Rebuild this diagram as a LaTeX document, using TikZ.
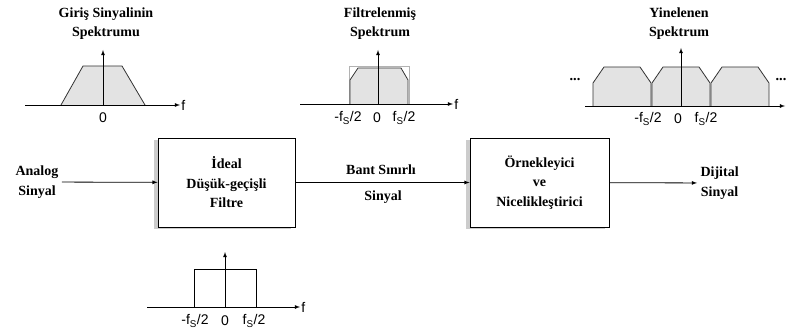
\documentclass[tikz,border=0pt]{standalone}
\usepackage{fontspec}
\setmainfont{Liberation Serif}
\setsansfont{Liberation Sans}
\usetikzlibrary{shadows}
\begin{document}
\begin{tikzpicture}[x=1pt,y=-1pt,
 blok/.style={draw,thick,fill=white,minimum width=137pt,minimum height=89pt,
   align=center,font=\bfseries\fontsize{14}{19.5}\selectfont,
   drop shadow={shadow xshift=-4pt,shadow yshift=-2pt,fill=gray!40,opacity=1}},
 yazi/.style={align=center,font=\bfseries\fontsize{14}{19.5}\selectfont},
 baslik/.style={align=center,font=\bfseries\fontsize{14}{19}\selectfont},
 eksen/.style={font=\sffamily\fontsize{14}{14}\selectfont,inner sep=1pt},
 tayf/.style={draw=black!80,fill=gray!22,thick},
 ok/.style={-latex,thick}]
\useasboundingbox (0,0) rectangle (791,334);
% ana blok zinciri
\node[blok] (filt) at (226.5,182.5) {İdeal\\Düşük-geçişli\\Filtre};
\node[blok,minimum width=139pt] (ornek) at (539.5,182.5) {Örnekleyici\\ve\\Nicelikleştirici};
\node[yazi] (giris) at (37,182) {Analog\\Sinyal};
\node[yazi,anchor=west] (cikis) at (697,183) {Dijital\\Sinyal};
\node[yazi] (bant) at (381,170) {Bant Sınırlı};
\node[yazi] (bant2) at (383,197) {Sinyal};
\draw[ok] (giris) -- (filt);
\draw[ok] (filt) -- (ornek);
\draw[ok] (ornek) -- (cikis);
% giris spektrumu
\node[baslik] (b1) at (106,24) {Giriş Sinyalinin\\Spektrumu};
\draw[tayf] (61,105) -- (83,66) -- (122,66) -- (145,105);
\draw[ok] (25,105) -- (180,105) node[eksen,anchor=west] (f1) {f};
\draw[ok] (103,105) -- (103,50);
\node[eksen] (s1) at (103,118) {0};
% filtrelenmis spektrum
\node[baslik] (b2) at (380,24) {Filtrelenmiş\\Spektrum};
\draw[gray!60] (349,104) rectangle (409,66);
\draw[tayf] (350,104) -- (350,80) -- (358,68) -- (401,68) -- (408,80) -- (408,104);
\draw[ok] (300,104) -- (453,104) node[eksen,anchor=west] (f2) {f};
\draw[ok] (378,104) -- (378,50);
\node[eksen] at (348,118) {-f\textsubscript{S}/2};
\node[eksen] at (377,118) {0};
\node[eksen] at (404,118) {f\textsubscript{S}/2};
% yinelenen spektrum
\node[baslik] (b3) at (679,24) {Yinelenen\\Spektrum};
\foreach \c in {622,681,740}{
  \draw[tayf] (\c-29,106) -- (\c-29,83) -- (\c-18,67) -- (\c+18,67) -- (\c+29,83) -- (\c+29,106);
}
\draw[ok] (585,106) -- (785,106);
\draw[ok] (681,106) -- (681,48);
\node[font=\Large\bfseries] at (575,80) {...};
\node[font=\Large\bfseries] at (781,80) {...};
\node[eksen] at (648,119) {-f\textsubscript{S}/2};
\node[eksen] at (678,119) {0};
\node[eksen] at (706,119) {f\textsubscript{S}/2};
% filtre yaniti
\draw[thick] (194,307) -- (194,269) -- (256,269) -- (256,307);
\draw[ok] (147,307) -- (300,307) node[eksen,anchor=west] (f4) {f};
\draw[ok] (225,307) -- (225,252);
\node[eksen] at (195,321) {-f\textsubscript{S}/2};
\node[eksen] at (225,321) {0};
\node[eksen] at (254,321) {f\textsubscript{S}/2};
\end{tikzpicture}
\end{document}
